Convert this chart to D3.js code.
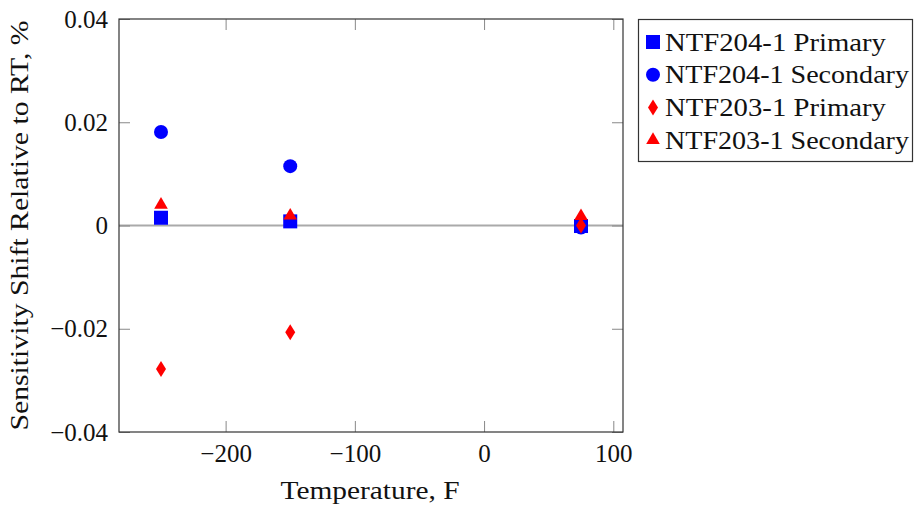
<!DOCTYPE html>
<html>
<head>
<meta charset="utf-8">
<title>Sensitivity shift</title>
<script src="https://d3js.org/d3.v7.min.js"></script>
<style>
  body { margin: 0; background: #fff; }
  svg text { font-family: "Liberation Serif", "DejaVu Serif", serif; fill: #111; }
</style>
</head>
<body>
<div id="chart"></div>
<script>
// data
let temps = [-250, -150, 75];
let ntf204Primary   = [0.0015, 0.0008, -0.0001];
let ntf204Secondary = [0.0181, 0.0115, -0.0004];
let ntf203Primary   = [-0.0278, -0.0207, 0.0000];
let ntf203Secondary = [0.0040, 0.0019, 0.0018];
let seriesNames = ["NTF204-1 Primary", "NTF204-1 Secondary", "NTF203-1 Primary", "NTF203-1 Secondary"];
let xTicks = [-200, -100, 0, 100];
let yTicks = [-0.04, -0.02, 0, 0.02, 0.04];

let W = 914, H = 508;
let plotL = 119, plotR = 623, plotT = 19, plotB = 432;
let fs = 25;

let svg = d3.select("#chart").append("svg")
    .attr("width", W)
    .attr("height", H);

let xScale = d3.scaleLinear().domain([-282.5, 107.5]).range([plotL, plotR]);
let yScale = d3.scaleLinear().domain([-0.04, 0.04]).range([plotB, plotT]);

let fmt = (d) => d < 0 ? "\u2212" + Math.abs(d) : "" + d;

// zero line
svg.append("line")
    .attr("x1", plotL).attr("x2", plotR)
    .attr("y1", yScale(0)).attr("y2", yScale(0))
    .attr("stroke", "#aaaaaa").attr("stroke-width", 2);

// axes, ticks pointing inward
let xAxis = d3.axisBottom(xScale).tickValues(xTicks).tickSizeInner(-11).tickSizeOuter(0).tickPadding(10).tickFormat(fmt);
let xAxisTop = d3.axisTop(xScale).tickValues(xTicks).tickSizeInner(-11).tickSizeOuter(0).tickFormat("");
let yAxis = d3.axisLeft(yScale).tickValues(yTicks).tickSizeInner(-11).tickSizeOuter(0).tickPadding(11).tickFormat(fmt);
let yAxisRight = d3.axisRight(yScale).tickValues(yTicks).tickSizeInner(-11).tickSizeOuter(0).tickFormat("");

function styleAxis(g) {
    g.select(".domain").remove();
    g.selectAll(".tick line").attr("stroke", "#888888");
    g.selectAll(".tick text").attr("font-size", fs).attr("fill", "#111");
}

svg.append("g").attr("transform", "translate(0," + plotB + ")").call(xAxis).call(styleAxis)
    .selectAll(".tick text").attr("dy", "0.78em");
svg.append("g").attr("transform", "translate(0," + plotT + ")").call(xAxisTop).call(styleAxis);
svg.append("g").attr("transform", "translate(" + plotL + ",0)").call(yAxis).call(styleAxis);
svg.append("g").attr("transform", "translate(" + plotR + ",0)").call(yAxisRight).call(styleAxis);

// frame
svg.append("rect")
    .attr("x", plotL).attr("y", plotT)
    .attr("width", plotR - plotL).attr("height", plotB - plotT)
    .attr("fill", "none").attr("stroke", "#333").attr("stroke-width", 1.2);

// markers
function marker(g, kind, color) {
    if (kind === "square") {
        g.append("rect").attr("x", -7).attr("y", -7).attr("width", 14).attr("height", 14).attr("fill", color);
    } else if (kind === "circle") {
        g.append("circle").attr("r", 7).attr("fill", color);
    } else if (kind === "diamond") {
        g.append("path").attr("d", "M0,-8L5,0L0,8L-5,0Z").attr("fill", color);
    } else {
        g.append("path").attr("d", "M0,-7.8L6.8,3.9L-6.8,3.9Z").attr("fill", color);
    }
}

let series = [
    { name: seriesNames[0], values: ntf204Primary, kind: "square", color: "#0000ff" },
    { name: seriesNames[1], values: ntf204Secondary, kind: "circle", color: "#0000ff" },
    { name: seriesNames[2], values: ntf203Primary, kind: "diamond", color: "#ff0000" },
    { name: seriesNames[3], values: ntf203Secondary, kind: "triangle", color: "#ff0000" }
];

series.forEach((s) => {
    svg.append("g").selectAll("g")
        .data(s.values.map((v, i) => ({ x: temps[i], y: v })))
        .enter()
        .append("g")
        .attr("transform", (d) => "translate(" + xScale(d.x) + "," + yScale(d.y) + ")")
        .each(function() { marker(d3.select(this), s.kind, s.color); });
});

// axis titles
svg.append("text")
    .attr("x", 370).attr("y", 499)
    .attr("text-anchor", "middle").attr("font-size", fs)
    .attr("textLength", 179).attr("lengthAdjust", "spacingAndGlyphs")
    .text("Temperature, F");

svg.append("text")
    .attr("transform", "translate(28," + yScale(0) + ") rotate(-90)")
    .attr("text-anchor", "middle").attr("font-size", fs)
    .attr("textLength", 410).attr("lengthAdjust", "spacingAndGlyphs")
    .text("Sensitivity Shift Relative to RT, %");

// legend
let legend = svg.append("g");
legend.append("rect")
    .attr("x", 638.5).attr("y", 19.5)
    .attr("width", 274).attr("height", 142)
    .attr("fill", "#fff").attr("stroke", "#333").attr("stroke-width", 1.2);

let rows = legend.selectAll("g.row")
    .data(series)
    .enter()
    .append("g")
    .attr("class", "row")
    .attr("transform", (d, i) => "translate(653," + (42 + i * 32.7) + ")");

rows.each(function(d) { marker(d3.select(this), d.kind, d.color); });
rows.append("text")
    .attr("x", 12).attr("y", 0).attr("dy", "0.35em")
    .attr("font-size", fs)
    .attr("textLength", (d) => d.name.indexOf("Secondary") >= 0 ? 244 : 221)
    .attr("lengthAdjust", "spacingAndGlyphs")
    .text((d) => d.name);
</script>
</body>
</html>
